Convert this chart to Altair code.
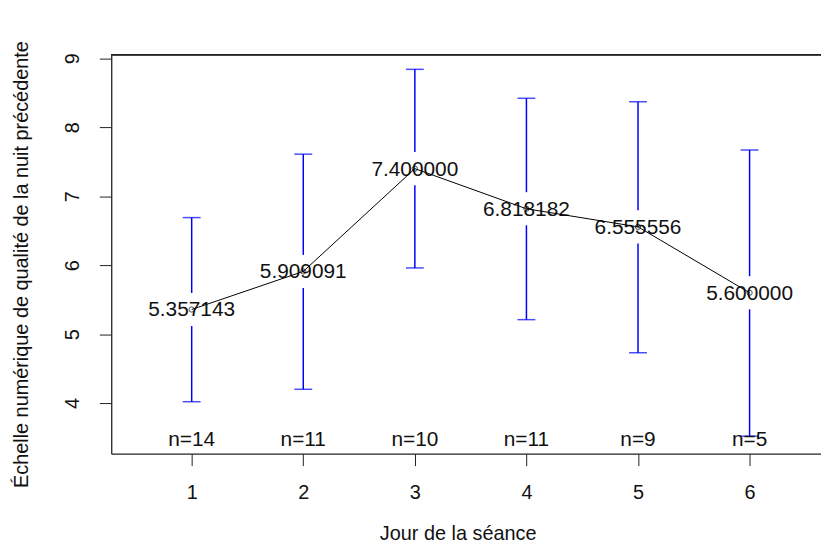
import altair as alt
import pandas as pd

# ---- data ----
jours = [1, 2, 3, 4, 5, 6]
moyennes = [5.357143, 5.909091, 7.400000, 6.818182, 6.555556, 5.600000]
ic_bas = [4.02, 4.20, 5.96, 5.21, 4.73, 3.52]
ic_haut = [6.69, 7.61, 8.84, 8.42, 8.37, 7.67]
effectifs = [14, 11, 10, 11, 9, 5]
y_ticks = [4, 5, 6, 7, 8, 9]

X_DOMAIN = [0.279, 6.64]
Y_DOMAIN = [3.266, 9.053]
GAP = 0.24  # gap around the mean label on the CI bars (data units)

W, H = 715, 402
FONT = "Liberation Sans"
BLUE = "#0000FF"

df = pd.DataFrame({
    "jour": jours,
    "moy": moyennes,
    "lo": ic_bas,
    "hi": ic_haut,
    "n": effectifs,
})
df["lab"] = [f"{m:.6f}" for m in moyennes]
df["nlab"] = [f"n={k}" for k in effectifs]
df["gap_lo"] = df["moy"] - GAP
df["gap_hi"] = df["moy"] + GAP

xs = alt.Scale(domain=X_DOMAIN, nice=False, zero=False)
ys = alt.Scale(domain=Y_DOMAIN, nice=False, zero=False)

x_axis = alt.Axis(values=jours, format="d", grid=False, tickSize=12,
                  labelPadding=33, labelBaseline="alphabetic",
                  labelFontSize=20, labelFont=FONT, labelColor="#111",
                  domainColor="#222", tickColor="#222", domainWidth=1.3,
                  title="Jour de la séance", titleFontSize=20, titleFont=FONT,
                  titleFontWeight="normal", titleColor="#111",
                  titleX=349, titleY=80, titleAlign="center", titleBaseline="middle")
y_axis = alt.Axis(values=y_ticks, format="d", grid=False, tickSize=12,
                  labelAngle=270, labelAlign="center", labelBaseline="alphabetic",
                  labelPadding=21, labelFontSize=20, labelFont=FONT, labelColor="#111",
                  domainColor="#222", tickColor="#222", domainWidth=1.3,
                  title="Échelle numérique de qualité de la nuit précédente",
                  titleFontSize=20, titleFont=FONT, titleFontWeight="normal",
                  titleColor="#111", titleAngle=270, titleX=-90, titleY=211,
                  titleAlign="center", titleBaseline="middle")

base = alt.Chart(df)

lower = base.mark_rule(color=BLUE, strokeWidth=1.5).encode(
    x=alt.X("jour:Q", scale=xs, axis=x_axis),
    y=alt.Y("lo:Q", scale=ys, axis=y_axis),
    y2="gap_lo:Q",
)
upper = base.mark_rule(color=BLUE, strokeWidth=1.5).encode(
    x=alt.X("jour:Q", scale=xs), y=alt.Y("gap_hi:Q", scale=ys), y2="hi:Q"
)
cap_lo = base.mark_tick(color=BLUE, orient="horizontal", size=18, thickness=1.5).encode(
    x=alt.X("jour:Q", scale=xs), y=alt.Y("lo:Q", scale=ys)
)
cap_hi = base.mark_tick(color=BLUE, orient="horizontal", size=18, thickness=1.5).encode(
    x=alt.X("jour:Q", scale=xs), y=alt.Y("hi:Q", scale=ys)
)
labels = base.mark_text(font=FONT, fontSize=21, color="#111", baseline="middle",
                        align="center", dy=1).encode(
    x=alt.X("jour:Q", scale=xs), y=alt.Y("moy:Q", scale=ys), text="lab:N"
)
nlabels = base.mark_text(font=FONT, fontSize=21, color="#111", baseline="alphabetic",
                         align="center", dy=-8).encode(
    x=alt.X("jour:Q", scale=xs), y=alt.datum(Y_DOMAIN[0]), text="nlab:N"
)
line = base.mark_line(color="#000", strokeWidth=1).encode(
    x=alt.X("jour:Q", scale=xs), y=alt.Y("moy:Q", scale=ys)
)
points = base.mark_point(shape="circle", filled=False, color="#000", size=28,
                         strokeWidth=1).encode(
    x=alt.X("jour:Q", scale=xs), y=alt.Y("moy:Q", scale=ys)
)
top_border = alt.Chart(df).mark_rule(color="#222", strokeWidth=1.3).encode(
    x=alt.value(0), x2=alt.value(W), y=alt.value(0)
)

chart = alt.layer(lower, upper, cap_lo, cap_hi, labels, nlabels, line, points,
                  top_border).properties(
    width=W, height=H,
    padding={"left": 104, "top": 45, "right": 0, "bottom": 92},
    autosize=alt.AutoSizeParams(type="none"),
    background="white",
).configure_view(stroke=None)

chart.save("out.html", embed_options={"renderer": "svg", "actions": False})
